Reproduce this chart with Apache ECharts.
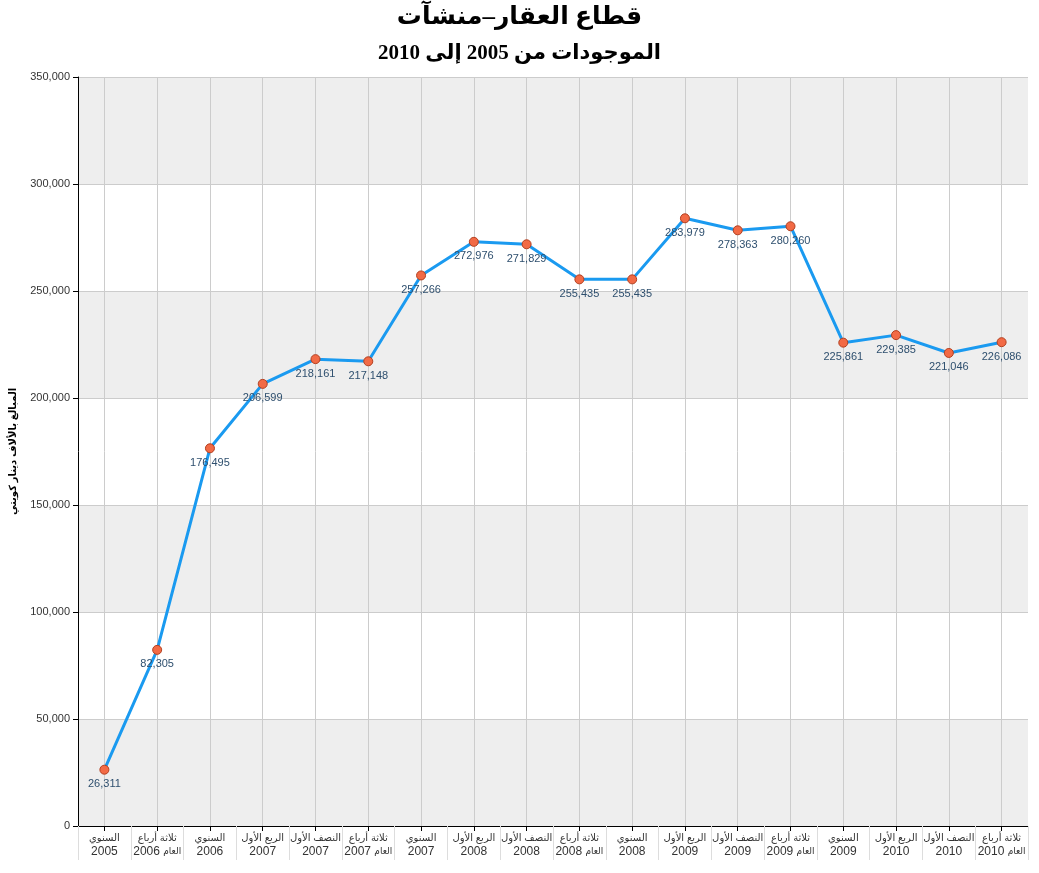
<!DOCTYPE html>
<html>
<head>
<meta charset="utf-8">
<script src="https://cdn.jsdelivr.net/npm/echarts@6/dist/echarts.min.js"></script>
<style>
html,body{margin:0;padding:0;background:#fff;}
#main{width:1039px;height:873px;}
</style>
</head>
<body>
<div id="main"></div>
<script>
// Category labels: period (top line) and year (bottom line)
const periods = ['السنوي','ثلاثة أرباع','السنوي','الربع الأول','النصف الأول','ثلاثة أرباع','السنوي','الربع الأول','النصف الأول','ثلاثة أرباع','السنوي','الربع الأول','النصف الأول','ثلاثة أرباع','السنوي','الربع الأول','النصف الأول','ثلاثة أرباع'];
const years = ['2005','2006','2006','2007','2007','2007','2007','2008','2008','2008','2008','2009','2009','2009','2009','2010','2010','2010'];
const values = [26311, 82305, 176495, 206599, 218161, 217148, 257266, 272976, 271829, 255435, 255435, 283979, 278363, 280260, 225861, 229385, 221046, 226086];
const yTicks = [0, 50000, 100000, 150000, 200000, 250000, 300000, 350000];

const categories = periods.map((p, i) => i);

const chart = echarts.init(document.getElementById('main'), null, {renderer: 'canvas'});
const fmt = v => v.toLocaleString('en-US');

const option = {
  backgroundColor: '#ffffff',
  animation: false,
  title: [
    {
      text: 'قطاع العقار–منشآت',
      left: 'center', top: 0,
      textStyle: {fontFamily: '"Times New Roman","Liberation Serif","DejaVu Sans",serif', fontSize: 25, fontWeight: 'bold', color: '#000'}
    },
    {
      text: 'الموجودات من 2005 إلى 2010',
      left: 'center', top: 38,
      textStyle: {fontFamily: '"Times New Roman","Liberation Serif","DejaVu Sans",serif', fontSize: 21, fontWeight: 'bold', color: '#000'}
    }
  ],
  grid: {left: 78, right: 11, top: 77, bottom: 47, containLabel: false},
  xAxis: [
    {
      type: 'category',
      data: categories,
      boundaryGap: true,
      axisLine: {show: true, lineStyle: {color: '#000', width: 1}},
      axisTick: {show: true, alignWithLabel: true, length: 5, lineStyle: {color: '#000'}},
      splitLine: {show: true, alignWithLabel: true, lineStyle: {color: '#cccccc', width: 1}},
      axisLabel: {
        interval: 0,
        margin: 6,
        formatter: function (v, i) {
          const p = periods[i];
          const y = years[i];
          if (p === 'ثلاثة أرباع') {
            return '{p|' + p + '}\n{y|' + y + '} {s|العام}';
          }
          return '{p|' + p + '}\n{y|' + y + '}';
        },
        rich: {
          p: {fontSize: 10, color: '#333', fontFamily: 'Arial, "Liberation Sans", "DejaVu Sans", sans-serif', lineHeight: 13, align: 'center'},
          y: {fontSize: 12, color: '#333', fontFamily: 'Arial, "Liberation Sans", sans-serif', lineHeight: 14},
          s: {fontSize: 9, color: '#333', fontFamily: 'Arial, "Liberation Sans", "DejaVu Sans", sans-serif', lineHeight: 14}
        }
      }
    },
    {
      type: 'category',
      data: categories,
      position: 'bottom',
      boundaryGap: true,
      axisLine: {show: false},
      axisLabel: {show: false},
      splitLine: {show: false},
      axisTick: {show: true, alignWithLabel: false, length: 34, interval: 0, lineStyle: {color: '#dddddd'}}
    }
  ],
  yAxis: {
    type: 'value',
    min: 0, max: 350000, interval: 50000,
    name: 'المبالغ بالألاف دينار كويتي',
    nameLocation: 'middle',
    nameRotate: 90,
    nameGap: 60,
    nameTextStyle: {fontSize: 10, fontWeight: 'bold', color: '#000', fontFamily: 'Arial, "DejaVu Sans", sans-serif'},
    axisLine: {show: true, lineStyle: {color: '#000', width: 1}},
    axisTick: {show: true, length: 5, lineStyle: {color: '#000'}},
    axisLabel: {color: '#333', fontSize: 11, fontFamily: 'Arial, "Liberation Sans", sans-serif', margin: 8, formatter: v => fmt(v)},
    splitLine: {show: true, lineStyle: {color: '#cccccc', width: 1}},
    splitArea: {show: true, areaStyle: {color: ['#eeeeee', '#ffffff']}}
  },
  series: [{
    type: 'line',
    data: values,
    xAxisIndex: 0,
    symbol: 'circle',
    symbolSize: 9,
    lineStyle: {color: '#1a9af0', width: 3},
    itemStyle: {color: '#f26a45', borderColor: '#b34020', borderWidth: 1},
    label: {
      show: true,
      position: 'bottom',
      distance: 4,
      formatter: p => fmt(p.value),
      color: '#2e4f6e',
      fontSize: 11,
      fontFamily: 'Arial, "Liberation Sans", sans-serif'
    },
    z: 5
  }]
};
chart.setOption(option);
</script>
</body>
</html>
